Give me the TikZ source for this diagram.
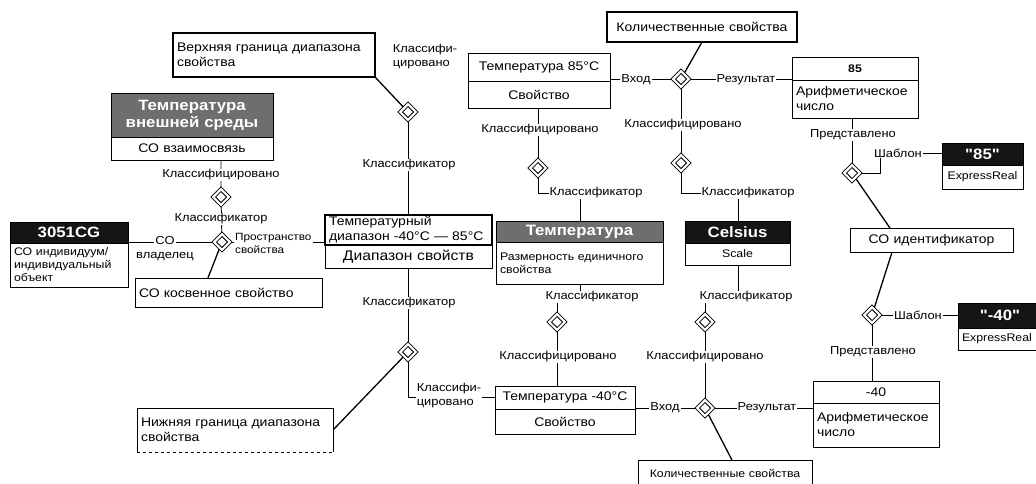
\documentclass[tikz,border=0pt]{standalone}
\usepackage{fontspec}
\setmainfont{Liberation Sans}[FakeStretch=1.12]
\newfontfamily\qfont{Liberation Sans}[FakeStretch=1.12]
\usetikzlibrary{shapes.geometric,calc}
\pgfdeclarelayer{bg}
\pgfsetlayers{bg,main}
\definecolor{hgray}{HTML}{6E6E6E}
\definecolor{hblack}{HTML}{151515}
\newcommand\fLab{\fontsize{11.5}{14}\selectfont}
\newcommand\fBox{\fontsize{12.5}{15}\selectfont}
\newcommand\fSm{\fontsize{11}{13}\selectfont}
\newcommand\fLg{\fontsize{14}{16}\selectfont}
\newcommand\fHdr{\bfseries\fontsize{15}{17}\selectfont}
\newcommand\fTiny{\fontsize{10.5}{13}\selectfont}
% box from (x1,y1) to (x2,y2) in pixel units
\newcommand\boxat[7]{%
  \pgfmathsetmacro\bxw{#4-#2}\pgfmathsetmacro\bxh{#5-#3}\pgfmathsetmacro\bxt{#4-#2-8}%
  \node[bx,minimum width=\bxw pt,minimum height=\bxh pt,text width=\bxt pt,#6] (#1) at ({(#2+#4)/2},{(#3+#5)/2}) {#7};}
\begin{document}
\begin{tikzpicture}[x=1pt,y=-1pt,
  bx/.style={draw,line width=1pt,fill=white,inner sep=0pt,outer sep=0pt,align=center,font=\fBox},
  hdr/.style={fill=hgray,text=white,font=\fHdr,align=center},
  hdk/.style={fill=hblack,text=white,font=\fHdr,align=center},
  dm/.style={diamond,draw,line width=0.9pt,double,double distance=2.2pt,fill=white,minimum width=16pt,minimum height=16pt,inner sep=0pt},
  lab/.style={font=\fLab,fill=white,inner sep=1pt},
  ln/.style={line width=0.9pt},
  lnd/.style={line width=1.3pt}]
\useasboundingbox (0,0) rectangle (1036,483);

% boxes
\boxat{A}{173}{33}{375}{77}{line width=1.6pt,align=left}{Верхняя граница диапазона\\свойства}
\boxat{Bh}{111}{93}{273}{137}{hdr}{Температура\\внешней среды}
\boxat{Bb}{111}{137}{273}{160}{}{СО взаимосвязь}
\boxat{Ch}{10}{222}{128}{243}{hdk}{3051CG}
\boxat{Cb}{10}{243}{128}{287}{align=left,font=\fSm}{СО индивидуум/\\индивидуальный\\объект}
\boxat{D}{135}{278}{322}{307}{align=left}{СО косвенное свойство}
\boxat{Et}{325}{215}{492}{245}{align=left,line width=1.3pt}{Температурный\\диапазон -40°C — 85°C}
\boxat{Eb}{325}{245}{492}{268}{font=\fLg}{Диапазон свойств}
\boxat{F}{137}{408}{333}{452}{draw=none,align=left}{Нижняя граница диапазона\\свойства}
\draw[line width=1pt] (F.south west) -- (F.north west) -- (F.north east) -- (F.south east);
\draw[line width=1pt,dashed] (F.south west) -- (F.south east);
\boxat{Gt}{468}{53}{610}{81}{}{Температура 85°C}
\boxat{Gb}{468}{81}{610}{108}{}{Свойство}
\boxat{H}{607}{12}{797}{42}{line width=1.6pt}{Количественные свойства}
\boxat{It}{792}{57}{918}{80}{font=\bfseries\fSm}{85}
\boxat{Ib}{792}{80}{918}{118}{align=left}{Арифметическое\\число}
\boxat{Jh}{496}{221}{663}{242}{hdr}{Температура}
\boxat{Jb}{496}{242}{663}{284}{align=left,font=\fSm}{Размерность единичного\\свойства}
\boxat{Kh}{685}{221}{790}{243}{hdk}{Celsius}
\boxat{Kb}{685}{243}{790}{265}{font=\fSm}{Scale}
\boxat{L}{850}{228}{1013}{252}{}{СО идентификатор}
\boxat{Mh}{942}{143}{1023}{165}{hdk}{\qfont\bfseries "85"}
\boxat{Mb}{942}{165}{1023}{189}{font=\fSm}{ExpressReal}
\boxat{Nh}{958}{303}{1042}{328}{hdk}{\qfont\bfseries "-40"}
\boxat{Nb}{958}{328}{1042}{350}{align=left,font=\fSm}{ExpressReal}
\boxat{Ot}{495}{386}{635}{409}{}{Температура -40°C}
\boxat{Ob}{495}{409}{635}{434}{}{Свойство}
\boxat{Pt}{813}{381}{939}{403}{}{-40}
\boxat{Pb}{813}{403}{939}{447}{align=left}{Арифметическое\\число}
\boxat{Q}{638}{460}{812}{486}{font=\fSm}{Количественные свойства}

% diamonds
\node[dm] (d1) at (221,197) {};
\node[dm] (d2) at (222,242) {};
\node[dm] (d3) at (408,112) {};
\node[dm] (d4) at (408,352) {};
\node[dm] (d5) at (538,168) {};
\node[dm] (d6) at (681,79) {};
\node[dm] (d7) at (681,163) {};
\node[dm] (d8) at (852,173) {};
\node[dm] (d9) at (557,322) {};
\node[dm] (d10) at (705,322) {};
\node[dm] (d11) at (705,408) {};
\node[dm] (d12) at (872,315) {};

\coordinate (c5) at (580,193);
\coordinate (c7) at (738,193);
\coordinate (c8) at (880,153);
\coordinate (c9) at (580,297);
\coordinate (c10) at (738,297);

% labels
\node[lab] at (221,175) {Классифицировано};
\node[lab] at (221,219) {Классификатор};
\node[lab] at (165,241) {СО};
\node[font=\fLab,inner sep=1pt] at (165,257) {владелец};
\node[lab,font=\fTiny,align=left,anchor=west] at (234,243) {Пространство\\свойства};
\node[font=\fLab,align=left,inner sep=1pt] at (425,57) {Классифи-\\цировано};
\node[lab] at (409,165) {Классификатор};
\node[lab] at (409,303) {Классификатор};
\node[lab,align=left] at (449,396) {Классифи-\\цировано};
\node[lab] at (540,130) {Классифицировано};
\node[lab] at (596,193) {Классификатор};
\node[lab] at (636,80) {Вход};
\node[lab] at (746,80) {Результат};
\node[lab] at (683,125) {Классифицировано};
\node[lab] at (748,193) {Классификатор};
\node[lab] at (853,135) {Представлено};
\node[lab] at (898,153) {Шаблон};
\node[lab] at (592,297) {Классификатор};
\node[lab] at (558,357) {Классифицировано};
\node[lab] at (746,297) {Классификатор};
\node[lab] at (705,357) {Классифицировано};
\node[lab] at (665,408) {Вход};
\node[lab] at (767,408) {Результат};
\node[lab] at (918,315) {Шаблон};
\node[lab] at (873,352) {Представлено};

% connectors
\begin{pgfonlayer}{bg}
\draw[ln] (d1 |- Bb.south) -- (d1) -- (d2);
\draw[ln] (d2 -| Ch.east) -- (d2) -- (d2 -| Et.west);
\draw[lnd] (d2) -- ($(D.north west)!0.39!(D.north east)$);
\draw[lnd] (A.south east) -- (d3);
\draw[ln] (d3) -- (d3 |- Et.north);
\draw[ln] (d4 |- Eb.south) -- (d4);
\draw[ln] (d4) |- (Ot.west);
\draw[lnd] (d4) -- (F.east);
\draw[ln] (d5 |- Gb.south) -- (d5) |- (c5) -- (c5 |- Jh.north);
\draw[ln] (d6 -| Gt.east) -- (d6) -- (d6 -| It.west);
\draw[lnd] (H.south) -- (d6);
\draw[ln] (d6) -- (d7) |- (c7) -- (c7 |- Kh.north);
\draw[ln] (d8 |- Ib.south) -- (d8) -| (c8) -- (c8 -| Mh.west);
\draw[lnd] (d8) -- ($(L.north west)!0.245!(L.north east)$);
\draw[lnd] ($(L.south west)!0.258!(L.south east)$) -- (d12);
\draw[ln] (d12) -- (d12 -| Nh.west);
\draw[ln] (d12) -- (d12 |- Pt.north);
\draw[ln] (c9 |- Jb.south) -- (c9) -| (d9) -- (d9 |- Ot.north);
\draw[ln] (c10 |- Kb.south) -- (c10) -| (d10) -- (d11);
\draw[ln] (d11 -| Ot.east) -- (d11) -- (d11 -| Pb.west);
\draw[lnd] (d11) -- ($(Q.north west)!0.54!(Q.north east)$);
\end{pgfonlayer}
\end{tikzpicture}
\end{document}
